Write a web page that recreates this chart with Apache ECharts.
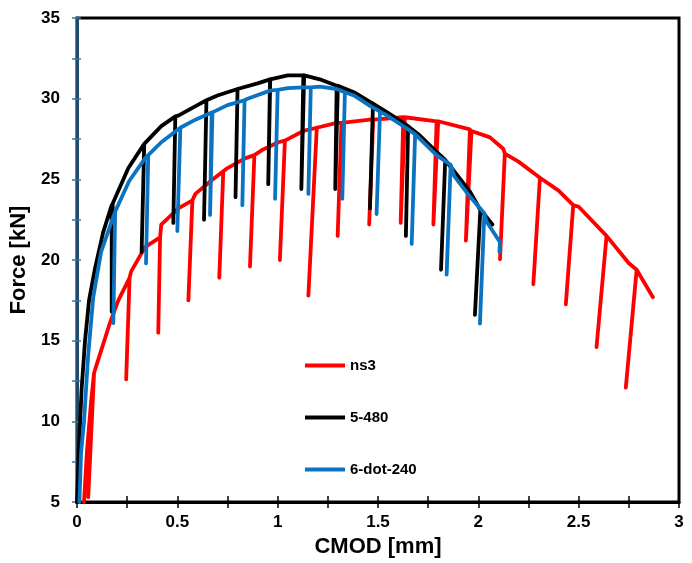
<!DOCTYPE html>
<html>
<head>
<meta charset="utf-8">
<script src="https://cdn.jsdelivr.net/npm/echarts@6/dist/echarts.min.js"></script>
<style>
html,body{margin:0;padding:0;background:#fff;}
#chart{width:692px;height:563px;}
</style>
</head>
<body>
<div id="chart"></div>
<script>
// ---- data (CMOD [mm], Force [kN]) ----
var seriesNames = ['ns3', '5-480', '6-dot-240'];
var xTicks = [0, 0.5, 1, 1.5, 2, 2.5, 3];
var yTicks = [5, 10, 15, 20, 25, 30, 35];

// envelope points
var ns3Env = [[0.035,5],[0.05,8.2],[0.07,11.2],[0.1,13.6],[0.164,16.1],[0.206,17.5],[0.27,19.3],[0.339,20.8],[0.42,22.2],[0.505,23.2],[0.59,24.1],[0.671,24.95],[0.75,25.7],[0.837,26.3],[0.92,26.8],[1.003,27.3],[1.128,28.0],[1.294,28.5],[1.46,28.7],[1.626,28.85],[1.792,28.6],[1.958,28.1],[2.058,27.6],[2.124,26.9],[2.2,26.1],[2.31,25.1],[2.4,24.3],[2.5,23.3],[2.64,21.4],[2.75,19.8],[2.87,17.7]];
var s480Env = [[0,5],[0.01,8.5],[0.023,12],[0.04,15],[0.06,17.5],[0.09,19.5],[0.13,21.7],[0.173,23.4],[0.256,25.7],[0.339,27.3],[0.42,28.3],[0.505,28.95],[0.6,29.6],[0.7,30.2],[0.8,30.6],[0.9,30.95],[0.962,31.2],[1.05,31.45],[1.128,31.45],[1.21,31.2],[1.294,30.8],[1.38,30.4],[1.46,29.8],[1.54,29.2],[1.626,28.5],[1.71,27.7],[1.792,26.7],[1.892,25.3],[1.96,24.2],[2.025,22.9],[2.07,22.2]];
var dot240Env = [[0.012,5],[0.02,8],[0.035,10],[0.055,14],[0.081,17.7],[0.12,20.5],[0.19,23.0],[0.26,24.9],[0.339,26.3],[0.42,27.3],[0.505,28.1],[0.59,28.7],[0.671,29.15],[0.75,29.6],[0.85,30.0],[0.962,30.5],[1.05,30.65],[1.128,30.7],[1.21,30.75],[1.294,30.6],[1.38,30.2],[1.46,29.55],[1.54,29.0],[1.626,28.3],[1.71,27.5],[1.792,26.5],[1.88,25.2],[1.96,23.9],[2.04,22.4],[2.108,21.1],[2.105,20.5]];

// unloading cycles: [topX, topF, bottomX, bottomF]
var ns3Cycles = [[0.085,13.0,0.056,5.3],[0.262,18.9,0.245,12.6],[0.414,21.4,0.405,15.5],[0.575,23.7,0.555,17.5],[0.729,25.5,0.709,18.9],[0.884,26.5,0.862,19.6],[1.036,27.4,1.011,20.0],[1.195,28.2,1.153,17.8],[1.318,28.5,1.299,21.5],[1.476,28.7,1.456,22.2],[1.634,28.85,1.613,22.3],[1.80,28.6,1.776,22.2],[1.966,28.0,1.938,21.2],[2.132,26.6,2.108,20.05],[2.307,25.1,2.274,18.5],[2.473,23.4,2.436,17.25],[2.639,21.5,2.589,14.6],[2.789,19.4,2.735,12.1]];
var s480Cycles = [[0.178,23.5,0.173,16.8],[0.335,27.2,0.322,20.5],[0.49,28.9,0.48,22.3],[0.645,29.9,0.633,22.5],[0.80,30.6,0.79,23.9],[0.963,31.2,0.953,24.7],[1.132,31.45,1.118,24.4],[1.30,30.8,1.287,24.4],[1.475,29.7,1.46,23.2],[1.65,28.3,1.639,21.5],[1.835,26.2,1.814,19.4],[2.01,23.1,1.983,16.6]];
var dot240Cycles = [[0.19,23.0,0.181,16.1],[0.355,26.5,0.344,19.8],[0.515,28.2,0.5,21.8],[0.675,29.15,0.663,22.8],[0.835,29.9,0.824,23.4],[1.0,30.55,0.987,23.8],[1.165,30.7,1.153,24.1],[1.335,30.4,1.322,23.8],[1.51,29.2,1.493,22.85],[1.685,27.8,1.668,21.0],[1.862,25.9,1.842,19.1],[2.03,22.9,2.008,16.06]];

// merge envelope with unloading cycles (ordered by CMOD of the envelope)
function build(env, cycles) {
  var items = env.map(function (p, i) { return {x: p[0], i: i, pts: [p]}; });
  cycles.forEach(function (c) {
    items.push({x: c[0], i: 1e6, pts: [[c[0], c[1]], [c[2], c[3]], [c[0], c[1]]]});
  });
  var last = items[env.length - 1];
  var rest = items.filter(function (it) { return it !== last; });
  rest.sort(function (a, b) { return a.x - b.x || a.i - b.i; });
  rest.push(last);
  var out = [];
  rest.forEach(function (it) { it.pts.forEach(function (p) { out.push(p); }); });
  return out;
}

var colors = ['#ff0000', '#000000', '#0a74c2'];
var datasets = [build(ns3Env, ns3Cycles), build(s480Env, s480Cycles), build(dot240Env, dot240Cycles)];

var FONT = '"Liberation Sans", Arial, sans-serif';
var chart = echarts.init(document.getElementById('chart'), null, {renderer: 'canvas'});

var option = {
  animation: false,
  backgroundColor: '#fff',
  grid: {left: 77, right: 13, top: 18, bottom: 56, show: true, borderColor: '#000', borderWidth: 3, backgroundColor: 'transparent', containLabel: false},
  legend: {
    orient: 'vertical', left: 300, top: 353, itemWidth: 40, itemHeight: 4, itemGap: 37,
    icon: 'rect',
    data: seriesNames,
    textStyle: {fontFamily: FONT, fontWeight: 'bold', fontSize: 15, color: '#000', lineHeight: 14}
  },
  xAxis: [{
    type: 'value', min: 0, max: 3, interval: 0.5,
    name: 'CMOD [mm]', nameLocation: 'middle', nameGap: 31,
    nameTextStyle: {fontFamily: FONT, fontWeight: 'bold', fontSize: 22, color: '#000'},
    axisLine: {show: true, onZero: false, lineStyle: {color: '#000', width: 3}},
    axisTick: {show: true, length: 6, lineStyle: {color: '#000', width: 1.5}},
    minorTick: {show: true, splitNumber: 2, length: 6, lineStyle: {color: '#000', width: 1.5}},
    splitLine: {show: false},
    axisLabel: {margin: 12, fontFamily: FONT, fontWeight: 'bold', fontSize: 17, color: '#000',
      formatter: function (v) { return xTicks.indexOf(v) >= 0 ? String(v) : ''; }}
  }, {
    type: 'value', min: 0, max: 3, interval: 0.5, position: 'bottom', gridIndex: 0,
    axisLine: {show: false, onZero: false},
    axisTick: {show: true, inside: true, length: 6, lineStyle: {color: '#000', width: 1.5}},
    minorTick: {show: true, splitNumber: 2, length: 6, lineStyle: {color: '#000', width: 1.5}},
    axisLabel: {show: false}, splitLine: {show: false}
  }],
  yAxis: [{
    type: 'value', min: 5, max: 35, interval: 5,
    name: 'Force [kN]', nameLocation: 'middle', nameGap: 41, nameRotate: 90,
    nameTextStyle: {fontFamily: FONT, fontWeight: 'bold', fontSize: 22, color: '#000'},
    axisLine: {show: true, onZero: false, lineStyle: {color: '#1d4a66', width: 3}},
    axisTick: {show: true, length: 5, lineStyle: {color: '#2f78a8', width: 1.5}},
    minorTick: {show: true, splitNumber: 2, length: 5, lineStyle: {color: '#2f78a8', width: 1.5}},
    splitLine: {show: false},
    axisLabel: {margin: 17, fontFamily: FONT, fontWeight: 'bold', fontSize: 17, color: '#000',
      formatter: function (v) { return yTicks.indexOf(v) >= 0 ? String(v) : ''; }}
  }, {
    type: 'value', min: 5, max: 35, interval: 5, position: 'left',
    axisLine: {show: false, onZero: false},
    axisTick: {show: true, inside: true, length: 4, lineStyle: {color: '#2f78a8', width: 1.5}},
    minorTick: {show: true, splitNumber: 2, length: 4, lineStyle: {color: '#2f78a8', width: 1.5}},
    axisLabel: {show: false}, splitLine: {show: false}
  }],
  series: seriesNames.map(function (n, k) {
    return {
      name: n, type: 'line', data: datasets[k], symbol: 'none', showSymbol: false,
      clip: true, smooth: false, z: 2 + k,
      lineStyle: {color: colors[k], width: 3.8, join: 'round', cap: 'round'},
      itemStyle: {color: colors[k]}
    };
  })
};
chart.setOption(option);
</script>
</body>
</html>
